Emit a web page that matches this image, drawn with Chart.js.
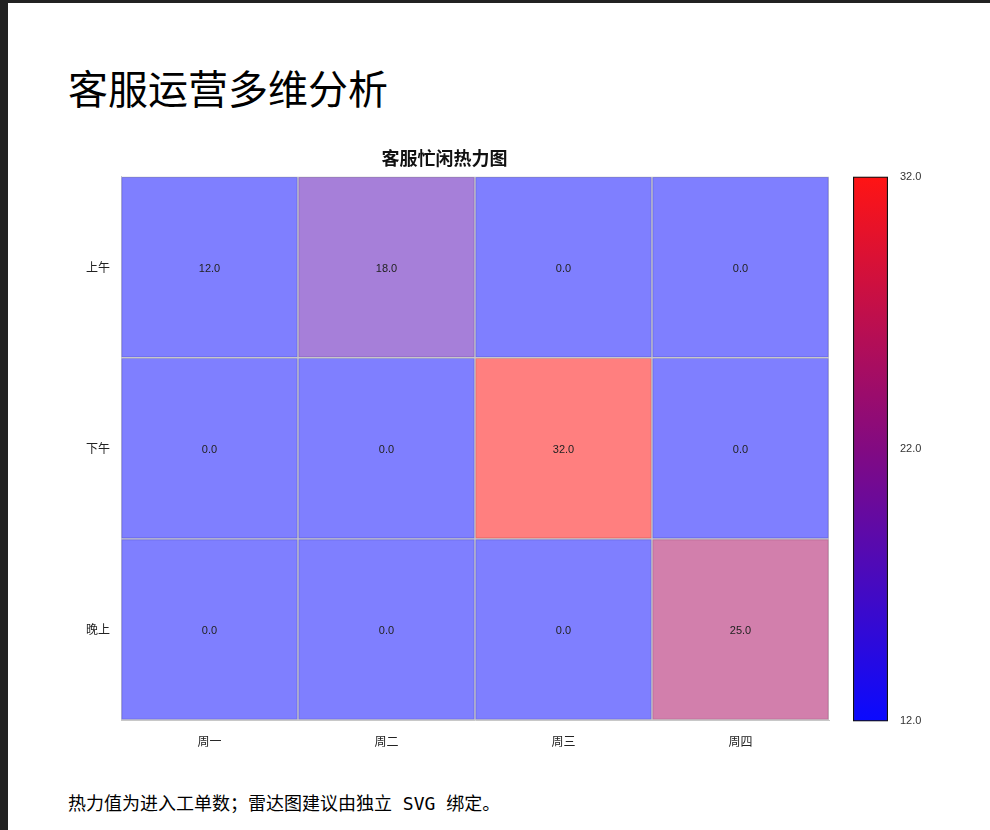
<!DOCTYPE html>
<html>
<head>
<meta charset="utf-8">
<script src="https://cdn.jsdelivr.net/npm/chart.js@4/dist/chart.umd.min.js"></script>
<style>
  html,body{margin:0;padding:0;background:#fff;}
  body{width:982px;height:827px;border-top:3px solid #222;border-left:8px solid #222;position:relative;overflow:hidden;
       font-family:"Noto Sans CJK SC","Liberation Sans",sans-serif;}
  h1{position:absolute;left:60px;top:55px;margin:0;font-size:40px;font-weight:normal;color:#000;}
  #wrap{position:absolute;left:52px;top:137px;width:770px;height:620px;}
  #bar{position:absolute;left:844px;top:163px;width:100px;height:566px;}
  p{position:absolute;left:60px;top:786px;margin:0;font-size:18px;font-family:"DejaVu Sans Mono","Noto Sans CJK SC",monospace;}
</style>
</head>
<body>
<h1>客服运营多维分析</h1>
<div id="wrap"><canvas id="heat"></canvas></div>
<div id="bar"><canvas id="scale"></canvas></div>
<p>热力值为进入工单数；雷达图建议由独立 SVG 绑定。</p>
<script>
const days = ["周一","周二","周三","周四"];
const periods = ["上午","下午","晚上"];
const morning = [12, 18, 0, 0];
const afternoon = [0, 0, 32, 0];
const evening = [0, 0, 0, 25];
const rows = [morning, afternoon, evening];
const scaleMin = 12, scaleMax = 32;
const scaleTicks = [12, 22, 32];

function heatColor(v, a){
  let t = (v - scaleMin) / (scaleMax - scaleMin);
  t = Math.max(0, Math.min(1, t));
  return 'rgba(' + Math.round(255*t) + ',0,' + Math.round(255*(1-t)) + ',' + a + ')';
}

const datasets = rows.map(function(r, i){
  return {
    label: periods[i],
    data: r.map(function(){ return [i, i + 1]; }),
    values: r,
    backgroundColor: r.map(function(v){ return heatColor(v, 0.5); }),
    borderColor: '#c8c8c8',
    borderWidth: 1,
    borderSkipped: false,
    barPercentage: 1,
    categoryPercentage: 1,
    grouped: false
  };
});

const cellLabels = {
  id: 'cellLabels',
  afterDatasetsDraw(chart){
    const ctx = chart.ctx;
    ctx.save();
    ctx.font = '11px "Liberation Sans", Arial, sans-serif';
    ctx.fillStyle = '#222';
    ctx.textAlign = 'center';
    ctx.textBaseline = 'middle';
    chart.data.datasets.forEach(function(ds, i){
      chart.getDatasetMeta(i).data.forEach(function(el, j){
        const c = el.getCenterPoint();
        ctx.fillText(ds.values[j].toFixed(1), c.x, c.y + 2);
      });
    });
    ctx.restore();
  }
};

new Chart(document.getElementById('heat'), {
  type: 'bar',
  data: { labels: days, datasets: datasets },
  options: {
    responsive: true,
    maintainAspectRatio: false,
    animation: false,
    layout: { padding: { right: 1 } },
    plugins: {
      legend: { display: false },
      tooltip: { enabled: false },
      title: { display: true, text: '客服忙闲热力图', color: '#111',
               font: { size: 18, weight: 'bold', family: '"Noto Sans CJK SC", sans-serif' },
               padding: { top: 7, bottom: 8 } }
    },
    scales: {
      x: {
        grid: { display: false },
        border: { color: '#c8c8c8' },
        ticks: { color: '#222', font: { size: 12, family: '"Noto Sans CJK SC", sans-serif' }, padding: 6 },
        afterFit(s){ s.height = 40; }
      },
      y: {
        min: 0, max: 3, reverse: true,
        grid: { display: false },
        border: { color: '#c8c8c8' },
        afterBuildTicks(s){ s.ticks = periods.map(function(p, i){ return { value: i + 0.5 }; }); },
        ticks: { color: '#222', font: { size: 12, family: '"Noto Sans CJK SC", sans-serif' },
                 callback: function(v){ return periods[Math.floor(v)]; } },
        afterFit(s){ s.width = 61; }
      }
    }
  },
  plugins: [cellLabels]
});

new Chart(document.getElementById('scale'), {
  type: 'bar',
  data: { labels: [''], datasets: [{
    data: [[scaleMin, scaleMax]],
    backgroundColor: function(c){
      const a = c.chart.chartArea;
      if (!a) return 'red';
      const g = c.chart.ctx.createLinearGradient(0, a.bottom, 0, a.top);
      g.addColorStop(0, 'rgb(10,10,255)');
      g.addColorStop(0.5, 'rgb(130,10,130)');
      g.addColorStop(1, 'rgb(255,20,20)');
      return g;
    },
    borderColor: '#111', borderWidth: 1.5, borderSkipped: false,
    barPercentage: 1, categoryPercentage: 1
  }]},
  options: {
    responsive: true,
    maintainAspectRatio: false,
    animation: false,
    layout: { padding: { left: 1, top: 3, bottom: 3 } },
    plugins: { legend: { display: false }, tooltip: { enabled: false } },
    scales: {
      x: { display: false },
      y: {
        position: 'right', min: scaleMin, max: scaleMax,
        grid: { display: false }, border: { display: false },
        afterBuildTicks(s){ s.ticks = scaleTicks.map(function(v){ return { value: v }; }); },
        ticks: { color: '#333', font: { size: 11, family: '"Liberation Sans", Arial' }, padding: 4,
                 callback: function(v){ return Number(v).toFixed(1); } },
        afterFit(s){ s.width = 64; }
      }
    }
  }
});
</script>
</body>
</html>
